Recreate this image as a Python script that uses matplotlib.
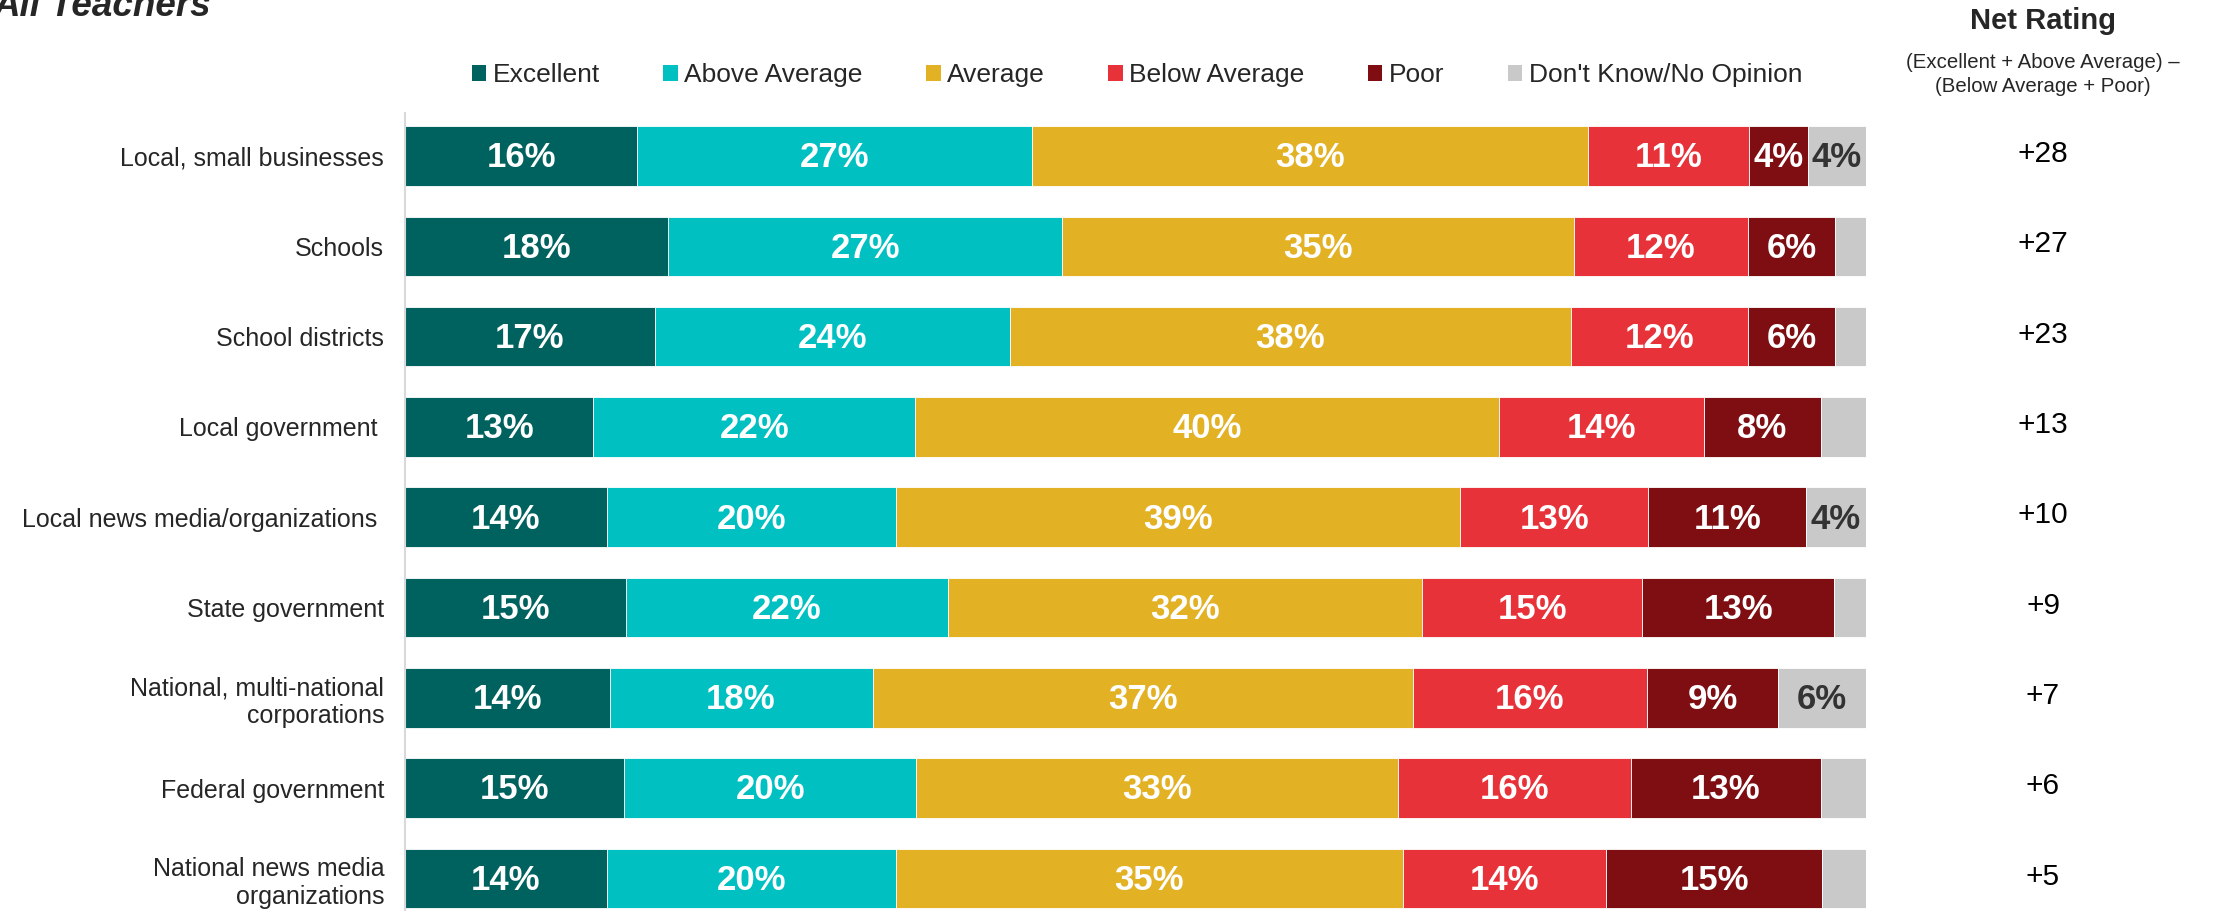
import matplotlib
matplotlib.use("Agg")
import matplotlib.pyplot as plt
from matplotlib.patches import Patch
import matplotlib.transforms as mtransforms

plt.rcParams['font.family'] = ['Liberation Sans', 'DejaVu Sans']

categories = [
    "Local, small businesses",
    "Schools",
    "School districts",
    "Local government ",
    "Local news media/organizations ",
    "State government",
    "National, multi-national\ncorporations",
    "Federal government",
    "National news media\norganizations",
]
series_names = ["Excellent", "Above Average", "Average", "Below Average", "Poor", "Don't Know/No Opinion"]
excellent = [15.9, 18.0, 17.1, 12.9, 13.8, 15.1, 14.0, 15.0, 13.8]
above_average = [27.0, 27.0, 24.3, 22.0, 19.8, 22.1, 18.0, 20.0, 19.8]
average = [38.1, 35.0, 38.4, 40.0, 38.6, 32.4, 37.0, 33.0, 34.7]
below_average = [11.0, 11.9, 12.1, 14.0, 12.9, 15.1, 16.0, 15.9, 13.9]
poor = [4.0, 6.0, 6.0, 8.0, 10.8, 13.1, 9.0, 13.0, 14.8]
dont_know = [4.0, 2.1, 2.1, 3.1, 4.1, 2.2, 6.0, 3.1, 3.0]
net_rating = ["+28", "+27", "+23", "+13", "+10", "+9", "+7", "+6", "+5"]

colors = ["#00625E", "#00C0C2", "#E2B124", "#E8323A", "#7E0E12", "#C9C9C9"]
label_colors = ["white", "white", "white", "white", "white", "#333333"]
min_label = [3, 3, 3, 3, 3, 3.5]

W, H = 2223, 911
fig = plt.figure(figsize=(W / 100, H / 100), dpi=100)

# axes geometry (pixel based)
left_px, right_px = 405, 1866
top_px = 113
row0_px, spacing_px = 156, 90.3
ax = fig.add_axes([left_px / W, 0, (right_px - left_px) / W, 1 - top_px / H])
y_top = (top_px - row0_px) / spacing_px
y_bot = (H - row0_px) / spacing_px
ax.set_ylim(y_bot, y_top)
ax.set_xlim(0, 100)

series = [excellent, above_average, average, below_average, poor, dont_know]
ypos = list(range(len(categories)))
lefts = [0] * len(categories)
for s, vals in enumerate(series):
    ax.barh(ypos, vals, left=lefts, height=0.66, color=colors[s],
            edgecolor='white', linewidth=0.6, label=series_names[s])
    for i, v in enumerate(vals):
        if v >= min_label[s]:
            ax.text(lefts[i] + v / 2, i + 0.02, f"{round(v)}%", ha='center', va='center',
                    fontsize=25, fontweight='bold', color=label_colors[s])
    lefts = [l + v for l, v in zip(lefts, vals)]

ax.set_yticks(ypos)
ax.set_yticklabels(categories, fontsize=18, color='#262626')
ax.tick_params(axis='y', length=0, pad=15)
ax.tick_params(axis='x', length=0, labelbottom=False)
for lab in ax.get_yticklabels():
    lab.set_horizontalalignment('right')
    lab.set_multialignment('right')
for sp in ['top', 'right', 'bottom']:
    ax.spines[sp].set_visible(False)
ax.spines['left'].set_color('#D9D9D9')
ax.spines['left'].set_linewidth(1.5)

# legend
handles = [Patch(facecolor=c, edgecolor='none') for c in colors]
fig.legend(handles, series_names, loc='center', bbox_to_anchor=(1137 / W, 1 - 75 / H),
           ncol=6, frameon=False, fontsize=19, handlelength=0.55, handleheight=0.55,
           handletextpad=0.25, columnspacing=2.4, labelcolor='#262626')

# net rating column
net_x = 2043 / W
fig.text(net_x, 1 - 21 / H, "Net Rating", ha='center', va='center', fontsize=21,
         fontweight='bold', color='#262626')
fig.text(net_x, 1 - 62 / H, "(Excellent + Above Average) \u2013", ha='center', va='center',
         fontsize=14.7, color='#262626')
fig.text(net_x, 1 - 86 / H, "(Below Average + Poor)", ha='center', va='center',
         fontsize=14.7, color='#262626')
trans = mtransforms.blended_transform_factory(fig.transFigure, ax.transData)
for i, nr in enumerate(net_rating):
    ax.text(net_x, i - 0.02, nr, transform=trans, ha='center', va='center',
            fontsize=21.5, color='black')

# title (cut off at top in the reference)
fig.text(-0.003, 1 - 16 / H, "All Teachers", ha='left', va='baseline', fontsize=26.5,
         fontweight='bold', fontstyle='italic', color='#262626')

fig.savefig("out.png", dpi=100)
